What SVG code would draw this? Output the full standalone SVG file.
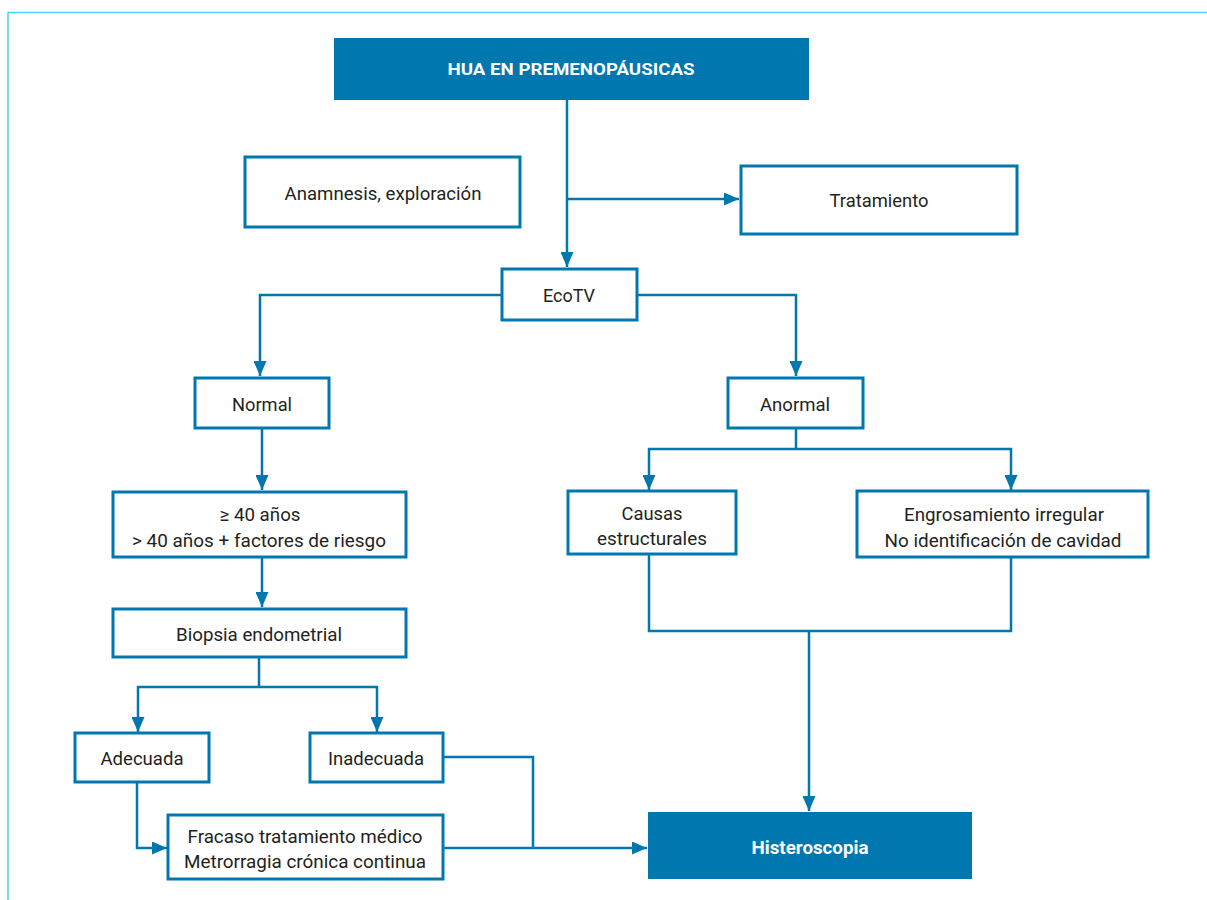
<svg xmlns="http://www.w3.org/2000/svg" width="1207" height="900" viewBox="0 0 1207 900">
<style>
.box{fill:#ffffff;stroke:#0077ae;stroke-width:3}
.dark{fill:#0077ae;stroke:none}
.t{font-family:Roboto,"Liberation Sans",sans-serif;font-size:19px;fill:#231f20;text-anchor:middle}
.tb{font-family:Roboto,"Liberation Sans",sans-serif;font-weight:bold;fill:#ffffff;text-anchor:middle}
.c{fill:none;stroke:#0077ae;stroke-width:2.5}
</style>
<defs>
<marker id="ah" markerUnits="userSpaceOnUse" markerWidth="15" markerHeight="13" refX="15" refY="6.5" orient="auto">
<path d="M0,0 L15,6.5 L0,13 z" fill="#0077ae"/>
</marker>
</defs>
<rect width="1207" height="900" fill="#ffffff"/>
<path d="M8,900 V12.5 H1207" fill="none" stroke="#4fd1f3" stroke-width="1.5"/>
<g id="connectors">
<path class="c" d="M567,100 V267" marker-end="url(#ah)"/>
<path class="c" d="M567,199 H739" marker-end="url(#ah)"/>
<path class="c" d="M502,295 H260 V376" marker-end="url(#ah)"/>
<path class="c" d="M637,295 H796 V376" marker-end="url(#ah)"/>
<path class="c" d="M262,428 V490" marker-end="url(#ah)"/>
<path class="c" d="M262,557 V607" marker-end="url(#ah)"/>
<path class="c" d="M259,657 V687"/>
<path class="c" d="M259,687 H138 V732" marker-end="url(#ah)"/>
<path class="c" d="M259,687 H377 V732" marker-end="url(#ah)"/>
<path class="c" d="M137,782 V848 H167" marker-end="url(#ah)"/>
<path class="c" d="M443,757 H533 V848"/>
<path class="c" d="M443,848 H647" marker-end="url(#ah)"/>
<path class="c" d="M796,428 V449"/>
<path class="c" d="M796,449 H649 V490" marker-end="url(#ah)"/>
<path class="c" d="M796,449 H1011 V490" marker-end="url(#ah)"/>
<path class="c" d="M649,554 V631 H1011 V557"/>
<path class="c" d="M809,631 V811" marker-end="url(#ah)"/>
</g>
<g id="n-title"><rect class="dark" x="334" y="38" width="475" height="62"/><text class="tb" x="571" y="75" font-size="17" textLength="247" lengthAdjust="spacingAndGlyphs">HUA EN PREMENOPÁUSICAS</text></g>
<g id="n-anamnesis"><rect class="box" x="245" y="157" width="275" height="70"/><text class="t" x="383" y="200" textLength="197" lengthAdjust="spacingAndGlyphs">Anamnesis, exploración</text></g>
<g id="n-tratamiento"><rect class="box" x="741" y="166" width="276" height="68"/><text class="t" x="879" y="207" textLength="99" lengthAdjust="spacingAndGlyphs">Tratamiento</text></g>
<g id="n-ecotv"><rect class="box" x="502" y="269" width="135" height="51"/><text class="t" x="569" y="302" textLength="52" lengthAdjust="spacingAndGlyphs">EcoTV</text></g>
<g id="n-normal"><rect class="box" x="195" y="378" width="134" height="50"/><text class="t" x="262" y="411" textLength="60" lengthAdjust="spacingAndGlyphs">Normal</text></g>
<g id="n-anormal"><rect class="box" x="728" y="378" width="135" height="50"/><text class="t" x="795" y="411" textLength="70" lengthAdjust="spacingAndGlyphs">Anormal</text></g>
<g id="n-edad"><rect class="box" x="113" y="492" width="293" height="65"/><text class="t" x="260" y="521" textLength="81" lengthAdjust="spacingAndGlyphs">≥ 40 años</text><text class="t" x="259" y="547" textLength="254" lengthAdjust="spacingAndGlyphs">&gt; 40 años + factores de riesgo</text></g>
<g id="n-biopsia"><rect class="box" x="113" y="609" width="293" height="48"/><text class="t" x="259" y="641" textLength="166" lengthAdjust="spacingAndGlyphs">Biopsia endometrial</text></g>
<g id="n-adecuada"><rect class="box" x="75" y="733" width="134" height="49"/><text class="t" x="142" y="765" textLength="83" lengthAdjust="spacingAndGlyphs">Adecuada</text></g>
<g id="n-inadecuada"><rect class="box" x="310" y="733" width="133" height="49"/><text class="t" x="376" y="765" textLength="96" lengthAdjust="spacingAndGlyphs">Inadecuada</text></g>
<g id="n-fracaso"><rect class="box" x="168" y="815" width="275" height="64"/><text class="t" x="305" y="843" textLength="235" lengthAdjust="spacingAndGlyphs">Fracaso tratamiento médico</text><text class="t" x="305" y="868" textLength="242" lengthAdjust="spacingAndGlyphs">Metrorragia crónica continua</text></g>
<g id="n-causas"><rect class="box" x="568" y="491" width="168" height="63"/><text class="t" x="652" y="520" textLength="61" lengthAdjust="spacingAndGlyphs">Causas</text><text class="t" x="652" y="545" textLength="110" lengthAdjust="spacingAndGlyphs">estructurales</text></g>
<g id="n-engrosamiento"><rect class="box" x="857" y="491" width="291" height="66"/><text class="t" x="1004" y="521" textLength="200" lengthAdjust="spacingAndGlyphs">Engrosamiento irregular</text><text class="t" x="1003" y="547" textLength="237" lengthAdjust="spacingAndGlyphs">No identificación de cavidad</text></g>
<g id="n-histeroscopia"><rect class="dark" x="648" y="812" width="324" height="67"/><text class="tb" x="810" y="854" font-size="18" textLength="117" lengthAdjust="spacingAndGlyphs">Histeroscopia</text></g>
</svg>
